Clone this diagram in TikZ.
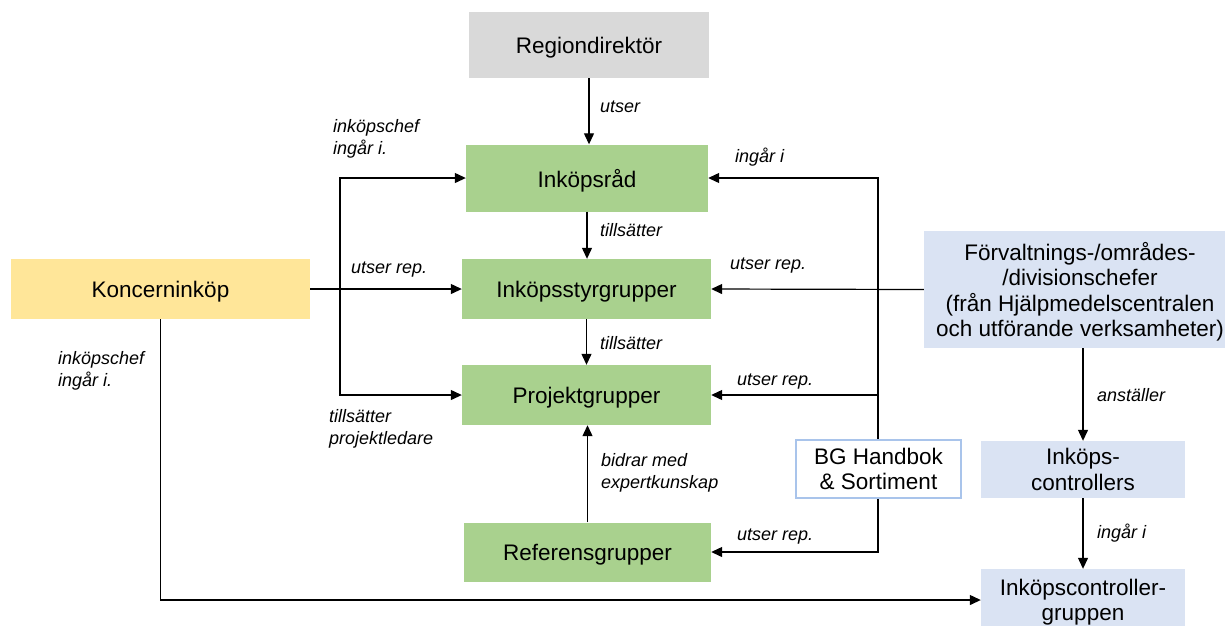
\documentclass[tikz,border=0pt]{standalone}
\usepackage{fontspec}
\setmainfont{Liberation Sans}
\usetikzlibrary{positioning,arrows.meta}
\definecolor{boxgreen}{HTML}{A9D18E}
\definecolor{boxyellow}{HTML}{FFE699}
\definecolor{boxblue}{HTML}{DAE3F3}
\definecolor{boxgray}{HTML}{D9D9D9}
\definecolor{bgborder}{HTML}{A9C4EB}
\tikzset{
  box/.style={rectangle, inner sep=0pt, align=center, text depth=0pt, font={\fontsize{22.5}{25.5}\selectfont}},
  group/.style={box, fill=boxgreen},
  unit/.style={box, fill=boxblue},
  lbl/.style={anchor=west, inner sep=0pt, align=left, font={\fontsize{18}{22}\selectfont\itshape}},
  appoint/.style={-{Triangle[length=11pt,width=10pt]}, line width=1.2pt}
}
\begin{document}
\begin{tikzpicture}[x=1pt, y=-1pt]
      \useasboundingbox (0,0) rectangle (1225,625);

      % boxes
      \node[box, fill=boxgray, minimum width=240, minimum height=66] (regdir) at (589,45) {Regiondirektör};
      \node[group, minimum width=242, minimum height=67] (rad) at (587,178) {Inköpsråd};
      \node[group, minimum width=249, minimum height=60] (styr) at (586.5,289) {Inköpsstyrgrupper};
      \node[group, minimum width=249, minimum height=60] (proj) at (586.5,395) {Projektgrupper};
      \node[group, minimum width=247, minimum height=59] (ref) at (587.5,552) {Referensgrupper};
      \node[box, fill=boxyellow, minimum width=299, minimum height=60] (konc) at (160.5,289) {Koncerninköp};
      \node[unit, minimum width=312, minimum height=117] (forv) at (1080,289.5)
        {Förvaltnings-/områdes-\\/divisionschefer\\(från Hjälpmedelscentralen\\och utförande verksamheter)};
      \node[unit, minimum width=204, minimum height=57] (ctrl) at (1083,469.5) {Inköps-\\controllers};
      \node[unit, minimum width=204, minimum height=62] (ctrlgrp) at (1083,600) {Inköpscontroller-\\gruppen};

      % middle column
      \draw[appoint] (regdir.south) -- (regdir.south |- rad.north);
      \draw[appoint] (rad.south) -- (rad.south |- styr.north);
      \draw[appoint] (styr.south) -- (styr.south |- proj.north);
      \draw[line width=1.2pt, -{Triangle[length=11pt,width=10pt]}] (ref.north) -- (ref.north |- proj.south);

      % from Koncerninköp
      \coordinate (lbus) at (340,289);
      \draw[appoint] (konc.east) -- (styr.west);
      \draw[appoint] (lbus) |- (rad.west);
      \draw[appoint] (lbus) |- (proj.west);
      \draw[appoint] (konc.south) |- (ctrlgrp.west);

      % from Förvaltnings-/områdeschefer
      \coordinate (rbus) at (878,289);
      \draw[appoint] (forv.west) -- (styr.east);
      \draw[appoint] (rbus) |- (rad.east);
      \draw[appoint] (rbus) |- (proj.east);
      \draw[appoint] (rbus) |- (ref.east);
      \draw[appoint] (ctrl.north |- forv.south) -- (ctrl.north);
      \draw[appoint] (ctrl.south) -- (ctrlgrp.north);

      \node[box, fill=white, draw=bgborder, line width=1.2pt, minimum width=165, minimum height=58] (bg) at (878.5,469) {BG Handbok\\\& Sortiment};

      % labels
      \node[lbl] (lutser) at (600,107) {utser};
      \node[lbl] (ltill1) at (600,230) {tillsätter};
      \node[lbl] (ltill2) at (600,343) {tillsätter};
      \node[lbl] (lbidrar) at (601,473) {bidrar med\\expertkunskap};
      \node[lbl] (lchef1) at (333,139) {inköpschef\\ingår i.};
      \node[lbl] (lrep1) at (351,270) {utser rep.};
      \node[lbl] (lprojl) at (329,429) {tillsätter\\projektledare};
      \node[lbl] (lchef2) at (58,371) {inköpschef\\ingår i.};
      \node[lbl] (lingar1) at (735,157) {ingår i};
      \node[lbl] (lrep2) at (730,266) {utser rep.};
      \node[lbl] (lrep3) at (737,382) {utser rep.};
      \node[lbl] (lrep4) at (737,537) {utser rep.};
      \node[lbl] (lanst) at (1097,395) {anställer};
      \node[lbl] (lingar2) at (1097,533) {ingår i};

    \end{tikzpicture}
\end{document}
